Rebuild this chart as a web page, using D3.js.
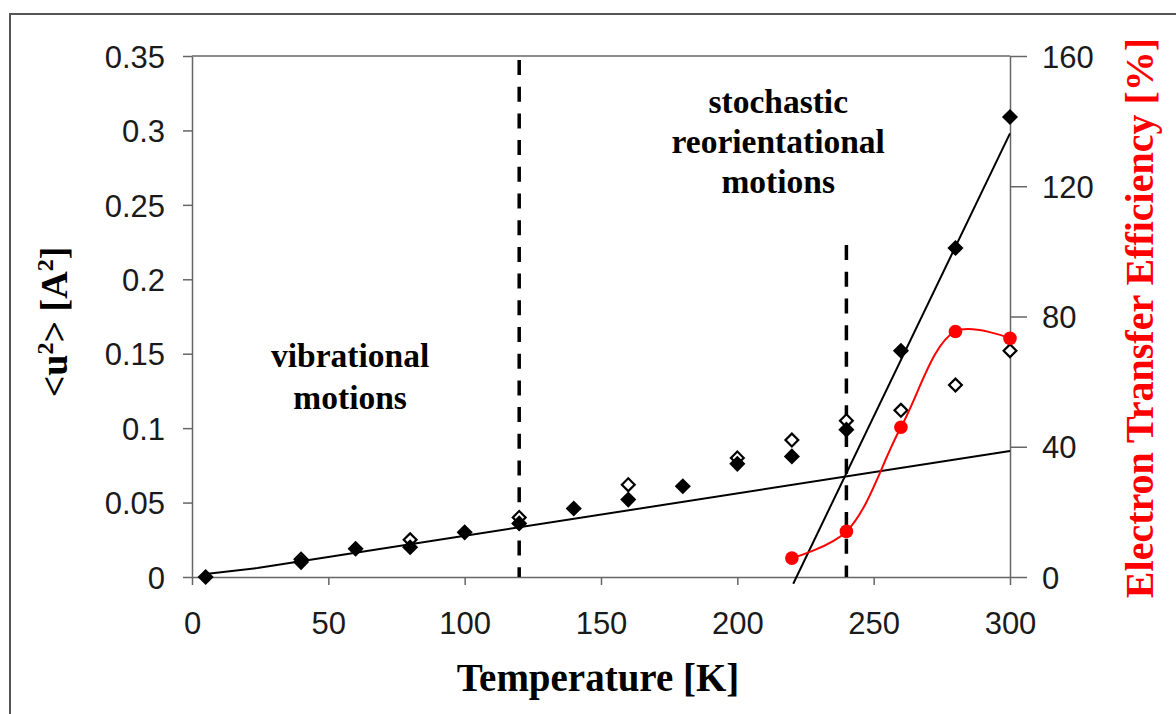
<!DOCTYPE html>
<html>
<head>
<meta charset="utf-8">
<script src="https://cdn.jsdelivr.net/npm/d3@7"></script>
<style>
  body { margin: 0; background: #fff; }
  .tick text { font-family: "Liberation Sans", Arial, sans-serif; font-size: 31px; fill: #1a1a1a; }
  .axis path, .axis line { stroke: #666; stroke-width: 1.5; }
  .title { font-family: "Liberation Serif", "Times New Roman", serif; font-weight: bold; }
</style>
</head>
<body>
<div id="chart"></div>
<script>
// temperatures and mean square displacement <u2> (filled diamonds)
var tempFilled = [5, 40, 60, 80, 100, 120, 140, 160, 180, 200, 220, 240, 260, 280, 300]
var u2Filled   = [0, 0.010, 0.019, 0.020, 0.030, 0.036, 0.046, 0.052, 0.061, 0.076, 0.081, 0.099, 0.152, 0.221, 0.309]

// open diamonds
var tempOpen = [40, 80, 120, 160, 200, 220, 240, 260, 280, 300]
var u2Open   = [0.012, 0.025, 0.040, 0.062, 0.080, 0.092, 0.105, 0.112, 0.129, 0.152]

// electron transfer efficiency [%] (right axis)
var tempEff = [220, 240, 260, 280, 300]
var effValues = [5.8, 14, 46, 75.4, 73.3]

// linear fits
var fitLowT = [5, 24, 300]
var fitLowU = [0.002, 0.006, 0.0847]
var fitHighT = [220.5, 300]
var fitHighU = [-0.0045, 0.298]

// region dividers (temperature, top value on left axis)
var dividerT = [120, 240]
var dividerTop = [0.35, 0.223]

var xTicks = [0, 50, 100, 150, 200, 250, 300]
var yTicks = [0, 0.05, 0.1, 0.15, 0.2, 0.25, 0.3, 0.35]
var y2Ticks = [0, 40, 80, 120, 160]

var W = 1176, H = 714
var margin = {top: 56, left: 192, right: 166, bottom: 137}
var width = W - margin.left - margin.right,
    height = H - margin.top - margin.bottom

var svg = d3.select("#chart").append("svg")
  .attr("width", W)
  .attr("height", H)

// outer frame
svg.append("rect")
  .attr("x", 10).attr("y", 14)
  .attr("width", 1300).attr("height", 900)
  .attr("fill", "none")
  .attr("stroke", "#555")
  .attr("stroke-width", 2)

var g = svg.append("g")
  .attr("transform", "translate(" + margin.left + "," + margin.top + ")")

var x = d3.scaleLinear().domain([0, 300]).range([0, width])
var y = d3.scaleLinear().domain([0, 0.35]).range([height, 0])
var y2 = d3.scaleLinear().domain([0, 160]).range([height, 0])

// plot-area top border
g.append("line")
  .attr("x1", 0).attr("x2", width)
  .attr("y1", 0).attr("y2", 0)
  .attr("stroke", "#666").attr("stroke-width", 1.5)

g.append("g")
  .attr("class", "x axis")
  .attr("transform", "translate(0," + height + ")")
  .call(d3.axisBottom(x).tickValues(xTicks).tickSize(8).tickSizeOuter(0).tickPadding(27))

g.append("g")
  .attr("class", "y axis")
  .call(d3.axisLeft(y).tickValues(yTicks).tickSize(9).tickSizeOuter(0).tickPadding(18)
    .tickFormat(d => d3.format("")(+d.toFixed(2))))

g.append("g")
  .attr("class", "y2 axis")
  .attr("transform", "translate(" + width + ",0)")
  .call(d3.axisRight(y2).tickValues(y2Ticks).tickSize(17).tickSizeOuter(0).tickPadding(15))

g.selectAll(".tick text").attr("dy", "0.36em")
g.selectAll(".x .tick text").attr("dy", "0.71em")

// dashed dividers
g.selectAll(".divider")
  .data(dividerT)
  .enter().append("line")
  .attr("class", "divider")
  .attr("x1", d => x(d)).attr("x2", d => x(d))
  .attr("y1", (d, i) => y(dividerTop[i]))
  .attr("y2", y(0))
  .attr("stroke", "#000")
  .attr("stroke-width", 3.5)
  .attr("stroke-dasharray", "15,11.7")
  .attr("stroke-dashoffset", (d, i) => i === 0 ? 22.7 : 0)

var line = d3.line().x(d => x(d[0])).y(d => y(d[1]))

g.append("path")
  .datum(d3.zip(fitLowT, fitLowU))
  .attr("fill", "none").attr("stroke", "#000").attr("stroke-width", 2)
  .attr("d", line)

g.append("path")
  .datum(d3.zip(fitHighT, fitHighU))
  .attr("fill", "none").attr("stroke", "#000").attr("stroke-width", 2)
  .attr("d", line)

g.selectAll(".open")
  .data(d3.zip(tempOpen, u2Open))
  .enter().append("path")
  .attr("class", "open")
  .attr("d", d3.symbol().type(d3.symbolSquare).size(82))
  .attr("transform", d => "translate(" + x(d[0]) + "," + y(d[1]) + ") rotate(45)")
  .attr("fill", "#fff").attr("stroke", "#000").attr("stroke-width", 2.2)

g.selectAll(".filled")
  .data(d3.zip(tempFilled, u2Filled))
  .enter().append("path")
  .attr("class", "filled")
  .attr("d", d3.symbol().type(d3.symbolSquare).size(130))
  .attr("transform", d => "translate(" + x(d[0]) + "," + y(d[1]) + ") rotate(45)")
  .attr("fill", "#000")

// efficiency curve (smoothed)
var effData = d3.zip(tempEff, effValues)
g.append("path")
  .datum(effData)
  .attr("fill", "none").attr("stroke", "#ff0000").attr("stroke-width", 2)
  .attr("d", d3.line().x(d => x(d[0])).y(d => y2(d[1])).curve(d3.curveCatmullRom))

g.selectAll(".eff")
  .data(effData)
  .enter().append("circle")
  .attr("class", "eff")
  .attr("cx", d => x(d[0])).attr("cy", d => y2(d[1]))
  .attr("r", 6.8)
  .attr("fill", "#ff0000")

// annotations
var notes = [
  {t: 58, v: 0.141, gap: 42, lines: ["vibrational", "motions"]},
  {t: 215, v: 0.312, gap: 40, lines: ["stochastic", "reorientational", "motions"]}
]
notes.forEach(n => {
  var txt = g.append("text")
    .attr("class", "title")
    .attr("text-anchor", "middle")
    .attr("font-size", 33.5)
    .attr("x", x(n.t)).attr("y", y(n.v))
  n.lines.forEach((s, i) => {
    txt.append("tspan").attr("x", x(n.t)).attr("dy", i === 0 ? 0 : n.gap).text(s)
  })
})

// axis titles
svg.append("text")
  .attr("class", "title")
  .attr("text-anchor", "middle")
  .attr("font-size", 39)
  .attr("x", 598).attr("y", 691)
  .text("Temperature [K]")

var ylab = svg.append("text")
  .attr("class", "title")
  .attr("text-anchor", "middle")
  .attr("font-size", 38)
  .attr("transform", "translate(67,322) rotate(-90)")
ylab.append("tspan").text("<u")
ylab.append("tspan").attr("font-size", 24).attr("dy", -14).text("2")
ylab.append("tspan").attr("dy", 14).text("> [A")
ylab.append("tspan").attr("font-size", 24).attr("dy", -14).text("2")
ylab.append("tspan").attr("dy", 14).text("]")

svg.append("text")
  .attr("class", "title")
  .attr("text-anchor", "middle")
  .attr("font-size", 40)
  .attr("fill", "#ff0000")
  .attr("transform", "translate(1153,318) rotate(-90)")
  .text("Electron Transfer Efficiency [%]")
</script>
</body>
</html>
